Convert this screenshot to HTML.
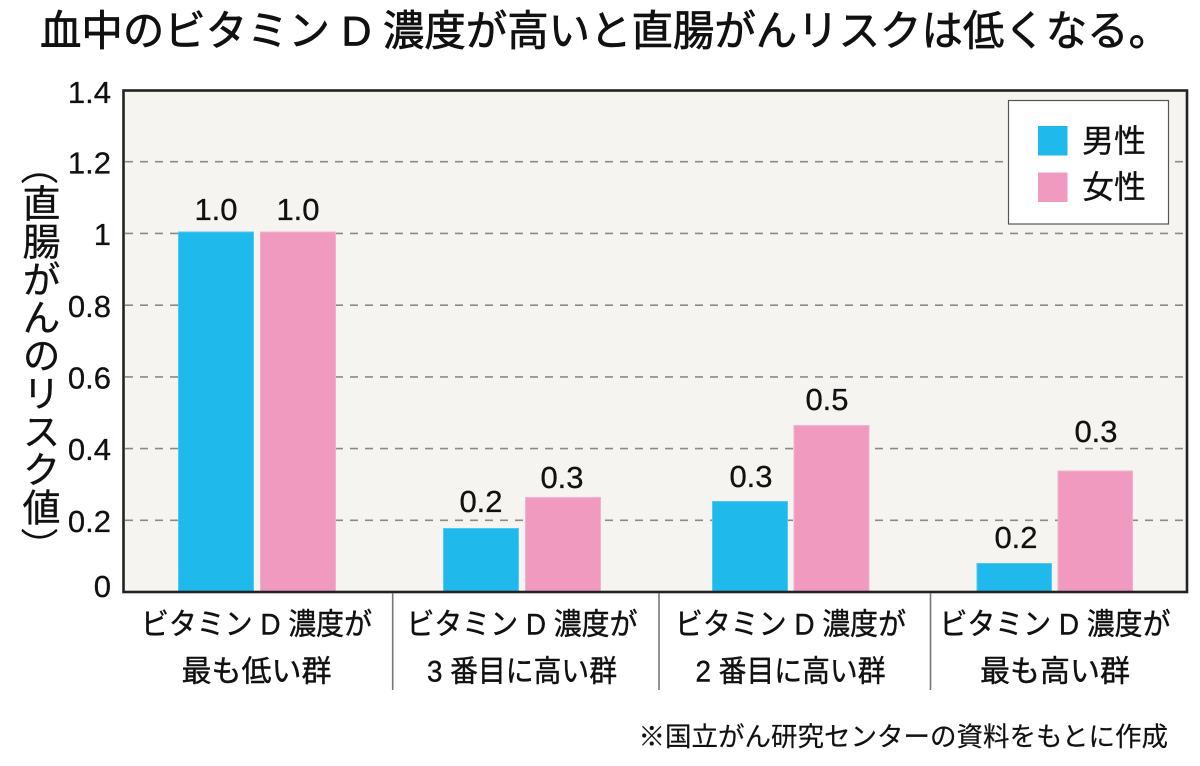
<!DOCTYPE html>
<html>
<head>
<meta charset="utf-8">
<style>
  html, body { margin:0; padding:0; background:#ffffff; }
  body { width:1200px; height:766px; position:relative; overflow:hidden; }
  svg { position:absolute; left:0; top:0; }
  .ylab {
    position:absolute; left:18px; top:184px;
    writing-mode: vertical-rl;
    font-family: "Liberation Sans", "Noto Sans CJK JP", sans-serif;
    font-size:38px; line-height:38px; color:#111;
    white-space:nowrap;
    -webkit-text-stroke: 0.3px #111;
  }
</style>
</head>
<body>
<svg width="1200" height="766" viewBox="0 0 1200 766" xmlns="http://www.w3.org/2000/svg">
  <!-- Title -->
  <text x="40" y="31" dominant-baseline="central" font-family="'Liberation Sans','Noto Sans CJK JP',sans-serif" font-size="42" font-weight="400" fill="#111" stroke="#111" stroke-width="0.7" textLength="1130" lengthAdjust="spacingAndGlyphs">血中のビタミン D 濃度が高いと直腸がんリスクは低くなる。</text>

  <!-- plot background -->
  <rect x="123" y="90" width="1064" height="502" fill="#f5f4f0"/>

  <!-- grid lines -->
  <g stroke="#8a8a8a" stroke-width="1.6" stroke-dasharray="8 7">
    <line x1="125" y1="161.7" x2="1186" y2="161.7"/>
    <line x1="125" y1="233.4" x2="1186" y2="233.4"/>
    <line x1="125" y1="305.2" x2="1186" y2="305.2"/>
    <line x1="125" y1="376.9" x2="1186" y2="376.9"/>
    <line x1="125" y1="448.6" x2="1186" y2="448.6"/>
    <line x1="125" y1="520.3" x2="1186" y2="520.3"/>
  </g>

  <!-- bars -->
  <g stroke-width="1">
    <rect x="178.5" y="232" width="75" height="360" fill="#1fb9ec" stroke="#52c8f0"/>
    <rect x="260.5" y="232" width="75" height="360" fill="#f09ac0" stroke="#f4b0ce"/>

    <rect x="443.5" y="528.5" width="75" height="63.5" fill="#1fb9ec" stroke="#52c8f0"/>
    <rect x="525.5" y="497.5" width="75" height="94.5" fill="#f09ac0" stroke="#f4b0ce"/>

    <rect x="712.5" y="501.5" width="75" height="90.5" fill="#1fb9ec" stroke="#52c8f0"/>
    <rect x="794" y="425.5" width="75" height="166.5" fill="#f09ac0" stroke="#f4b0ce"/>

    <rect x="977" y="563.5" width="74.5" height="28.5" fill="#1fb9ec" stroke="#52c8f0"/>
    <rect x="1058" y="471" width="74.5" height="121" fill="#f09ac0" stroke="#f4b0ce"/>
  </g>

  <!-- plot frame -->
  <rect x="123.5" y="90.5" width="1063.5" height="501.5" fill="none" stroke="#222" stroke-width="2.6"/>

  <!-- group dividers -->
  <g stroke="#777" stroke-width="1.6">
    <line x1="392.7" y1="593" x2="392.7" y2="690"/>
    <line x1="659" y1="593" x2="659" y2="690"/>
    <line x1="930.5" y1="593" x2="930.5" y2="690"/>
  </g>

  <!-- y tick labels -->
  <g font-family="'Liberation Sans',sans-serif" font-size="31" fill="#111" stroke="#111" stroke-width="0.3" text-anchor="end">
    <text x="111" y="103">1.4</text>
    <text x="111" y="173.5">1.2</text>
    <text x="111" y="245">1</text>
    <text x="111" y="317">0.8</text>
    <text x="111" y="388.5">0.6</text>
    <text x="111" y="460">0.4</text>
    <text x="111" y="532">0.2</text>
    <text x="111" y="597">0</text>
  </g>

  <!-- y axis label parens (rotated) -->
  <g font-family="'Liberation Sans','Noto Sans CJK JP',sans-serif" font-size="38" fill="#111" text-anchor="middle" dominant-baseline="central">
    <text x="0" y="0" transform="translate(37,166) rotate(90)">（</text>
    <text x="0" y="0" transform="translate(37,546) rotate(90)">）</text>
  </g>

  <!-- value labels -->
  <g font-family="'Liberation Sans',sans-serif" font-size="31" fill="#111" stroke="#111" stroke-width="0.3" text-anchor="middle">
    <text x="216" y="220">1.0</text>
    <text x="298" y="220">1.0</text>
    <text x="481" y="512">0.2</text>
    <text x="562" y="488">0.3</text>
    <text x="751" y="487">0.3</text>
    <text x="827" y="410">0.5</text>
    <text x="1016" y="548">0.2</text>
    <text x="1096" y="442">0.3</text>
  </g>

  <!-- category labels -->
  <g font-family="'Liberation Sans','Noto Sans CJK JP',sans-serif" font-size="30" fill="#111" stroke="#111" stroke-width="0.4" text-anchor="middle" dominant-baseline="central">
    <text x="256.5" y="625" textLength="231" lengthAdjust="spacingAndGlyphs">ビタミン D 濃度が</text>
    <text x="256.5" y="672">最も低い群</text>
    <text x="522" y="625" textLength="231" lengthAdjust="spacingAndGlyphs">ビタミン D 濃度が</text>
    <text x="522" y="672" textLength="190" lengthAdjust="spacingAndGlyphs">3 番目に高い群</text>
    <text x="790.5" y="625" textLength="231" lengthAdjust="spacingAndGlyphs">ビタミン D 濃度が</text>
    <text x="790.5" y="672" textLength="190" lengthAdjust="spacingAndGlyphs">2 番目に高い群</text>
    <text x="1055" y="625" textLength="231" lengthAdjust="spacingAndGlyphs">ビタミン D 濃度が</text>
    <text x="1055" y="672">最も高い群</text>
  </g>

  <!-- legend -->
  <rect x="1008.5" y="100.5" width="160" height="123.5" fill="#ffffff" stroke="#555" stroke-width="1.2"/>
  <rect x="1038" y="126" width="29.5" height="29.5" fill="#1fb9ec"/>
  <rect x="1038" y="172.5" width="29.5" height="29.5" fill="#f09ac0"/>
  <g font-family="'Liberation Sans','Noto Sans CJK JP',sans-serif" font-size="32" fill="#111" stroke="#111" stroke-width="0.3" dominant-baseline="central">
    <text x="1082" y="141">男性</text>
    <text x="1082" y="187">女性</text>
  </g>

  <!-- footnote -->
  <text x="1168" y="737" text-anchor="end" dominant-baseline="central" font-family="'Liberation Sans','Noto Sans CJK JP',sans-serif" font-size="26.5" fill="#111" stroke="#111" stroke-width="0.2">※国立がん研究センターの資料をもとに作成</text>
</svg>
<div class="ylab">直腸がんのリスク値</div>
</body>
</html>
